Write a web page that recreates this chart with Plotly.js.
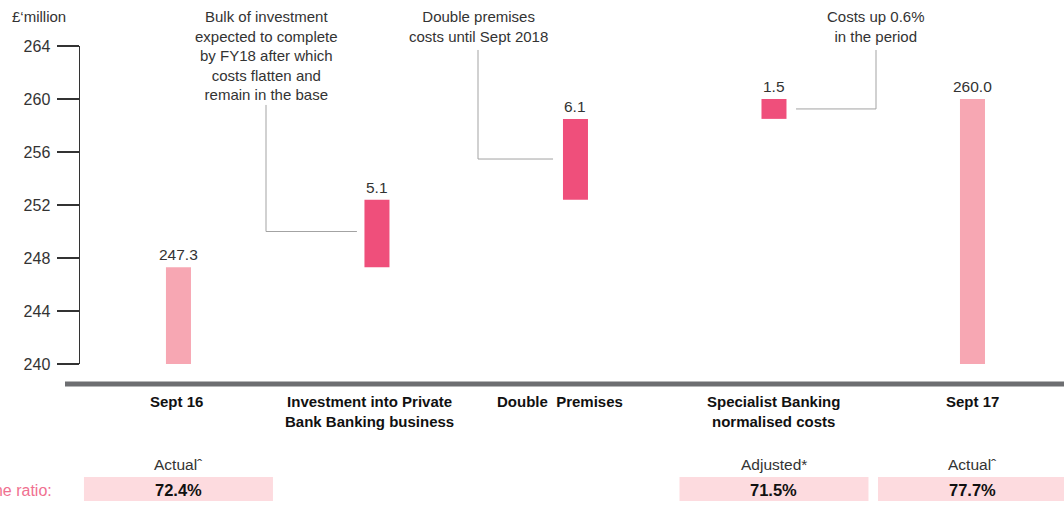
<!DOCTYPE html>
<html>
<head>
<meta charset="utf-8">
<script src="https://cdn.plot.ly/plotly-3.0.1.min.js"></script>
<style>html,body{margin:0;padding:0;background:#fff;overflow:hidden}</style>
</head>
<body>
<div id="chart" style="width:1064px;height:517px"></div>
<script>
// ---- data ----
const categories = ['Sept 16', 'Investment into Private<br>Bank Banking business', 'Double\u00a0 Premises', 'Specialist Banking<br>normalised costs', 'Sept 17'];
const measures = ['total', 'relative', 'relative', 'relative', 'total'];
const values = [247.3, 5.1, 6.1, 1.5, 260.0];
const valueLabels = ['247.3', '5.1', '6.1', '1.5', '260.0'];
const yTicks = [240, 244, 248, 252, 256, 260, 264];
const ratioIndex = [0, 3, 4];
const ratioHeads = ['Actual\u02c6', 'Adjusted*', 'Actual\u02c6'];
const ratioValues = ['72.4%', '71.5%', '77.7%'];
const calloutTexts = [
  'Bulk of investment<br>expected to complete<br>by FY18 after which<br>costs flatten and<br>remain in the base',
  'Double premises<br>costs until Sept 2018',
  'Costs up 0.6%<br>in the period'
];

// ---- styles / positions ----
const AXMIN = 240;
const totalColor = '#f7a7b3';
const deltaColor = '#ef4f7b';
const textColor = '#333333';
const FONT = 'Liberation Sans, Arial, Helvetica, sans-serif';
const labelShift = [-2, -7, -15, 0, 0];
// callout connectors: [xVertical, yTop, yElbow, xEnd]
const calloutGeom = [
  [0.441, 259.55, 250.0, 0.899],
  [1.509, 263.7, 255.47, 1.887],
  [3.514, 263.7, 259.25, 3.111]
];

// ---- waterfall computation ----
const xs = categories.map((c, i) => i);
const bases = [], heights = [], tops = [], colors = [];
let running = 0;
values.forEach((v, i) => {
  if (measures[i] === 'total') {
    bases.push(AXMIN); heights.push(v - AXMIN); running = v; tops.push(v); colors.push(totalColor);
  } else {
    bases.push(running); heights.push(v); running += v; tops.push(running); colors.push(deltaColor);
  }
});

const trace = {
  type: 'bar', x: xs, y: heights, base: bases, width: 0.126,
  marker: {color: colors, line: {width: 0}}, hoverinfo: 'none', cliponaxis: false
};

const annotations = [];
// value labels
xs.forEach((x, i) => annotations.push({
  x: x, y: tops[i], xref: 'x', yref: 'y', text: valueLabels[i], showarrow: false,
  yanchor: 'bottom', yshift: 2, font: {family: FONT, size: 15.5, color: textColor}
}));
// category labels
const pY = py => (364 - py) / 318;
xs.forEach((x, i) => annotations.push({
  x: x, y: pY(391), xref: 'x', yref: 'paper', text: '<b>' + categories[i] + '</b>', showarrow: false,
  yanchor: 'top', xshift: labelShift[i], font: {family: FONT, size: 15, color: '#111'}
}));
// callout texts
calloutGeom.forEach((g, i) => annotations.push({
  x: g[0], y: pY(6), xref: 'x', yref: 'paper', text: calloutTexts[i], showarrow: false,
  yanchor: 'top', font: {family: FONT, size: 15, color: textColor}
}));
// unit label
annotations.push({x: (10 - 80) / 984, y: pY(16), xref: 'paper', yref: 'paper', text: '\u00a3\u2018million',
  showarrow: false, xanchor: 'left', yanchor: 'middle', font: {family: FONT, size: 15, color: textColor}});
// ratio row
annotations.push({x: (54 - 80) / 984, y: pY(490), xref: 'paper', yref: 'paper', text: 'Cost to income ratio:',
  showarrow: false, xanchor: 'right', yanchor: 'middle', font: {family: FONT, size: 16, color: '#f07090'}});
ratioIndex.forEach((ci, k) => {
  annotations.push({x: ci, y: pY(464), xref: 'x', yref: 'paper', text: ratioHeads[k], showarrow: false,
    yanchor: 'middle', font: {family: FONT, size: 15.5, color: textColor}});
  annotations.push({x: ci, y: pY(490), xref: 'x', yref: 'paper', text: '<b>' + ratioValues[k] + '</b>', showarrow: false,
    yanchor: 'middle', font: {family: FONT, size: 16.5, color: '#111'}});
});

const shapes = [];
// baseline bar
shapes.push({type: 'rect', xref: 'paper', yref: 'paper', x0: (65 - 80) / 984, x1: 1.01,
  y0: pY(381.5), y1: pY(386.5), fillcolor: '#6d6e71', line: {width: 0}, layer: 'above'});
// ratio boxes
ratioIndex.forEach(ci => shapes.push({type: 'rect', xref: 'x', yref: 'paper', x0: ci - 0.476, x1: ci + 0.476,
  y0: pY(501), y1: pY(477), fillcolor: '#fddbdf', line: {width: 0}, layer: 'below'}));
// callout connectors
calloutGeom.forEach(g => {
  shapes.push({type: 'path', xref: 'x', yref: 'y',
    path: 'M ' + g[0] + ',' + g[1] + ' L ' + g[0] + ',' + g[2] + ' L ' + g[3] + ',' + g[2],
    line: {color: '#a3a3a3', width: 1}});
});

const layout = {
  width: 1064, height: 517,
  margin: {l: 80, r: 0, t: 46, b: 153, pad: 0},
  paper_bgcolor: '#ffffff', plot_bgcolor: '#ffffff',
  showlegend: false,
  xaxis: {range: [-0.496, 4.461], visible: false, fixedrange: true},
  yaxis: {range: [240, 264], tickvals: yTicks, ticktext: yTicks.map(String), ticks: 'outside', ticklen: 22,
    tickwidth: 1.5, tickcolor: '#333', showline: true, linecolor: '#333', linewidth: 1.5,
    showgrid: false, zeroline: false, fixedrange: true, ticklabelstandoff: 3,
    tickfont: {family: FONT, size: 16, color: textColor}},
  annotations: annotations,
  shapes: shapes
};

Plotly.newPlot('chart', [trace], layout, {displayModeBar: false, staticPlot: true});
</script>
</body>
</html>
